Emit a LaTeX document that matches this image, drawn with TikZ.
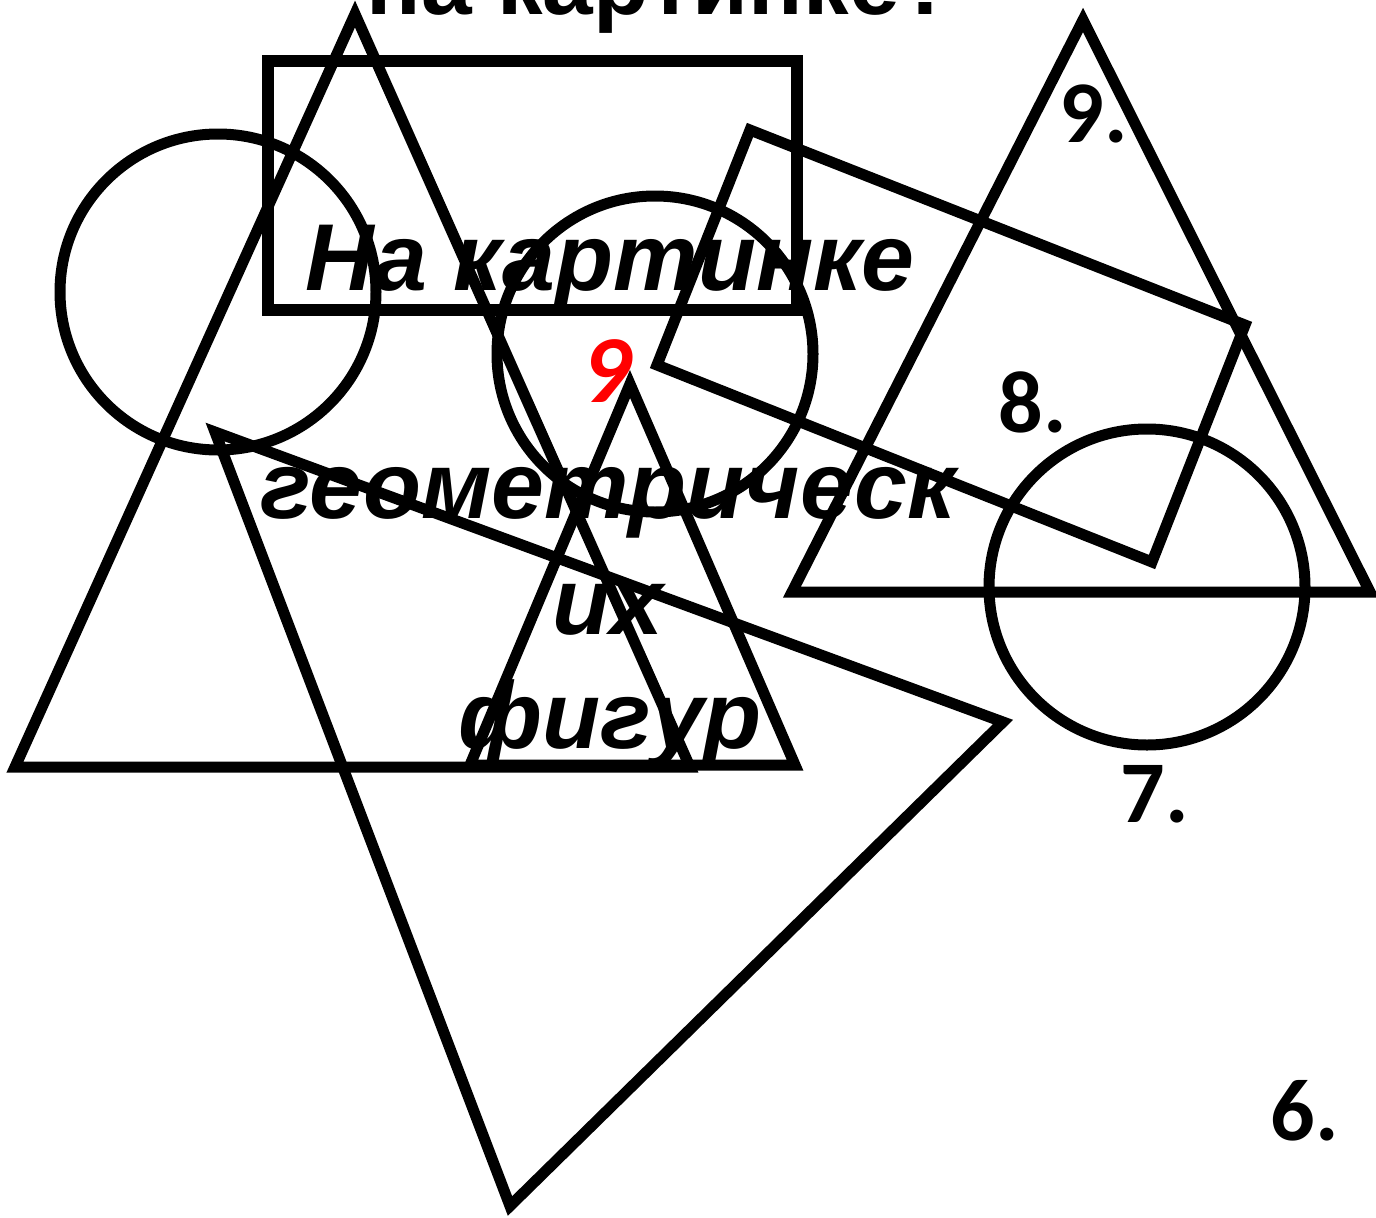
\documentclass[tikz,border=0pt]{standalone}
\usepackage{fontspec}
\setmainfont{Liberation Sans}
\newfontfamily\calfont{Carlito}
\definecolor{redd}{RGB}{255,0,0}
\begin{document}
\begin{tikzpicture}[x=1pt,y=-1pt,
  figline/.style={draw=black,line width=11pt,line join=miter},
  lbl/.style={font=\calfont\bfseries\fontsize{88}{90}\selectfont, inner sep=0, anchor=base},
  maintext/.style={font=\bfseries\itshape\fontsize{95}{110}\selectfont, inner sep=0, anchor=base},
  toptext/.style={font=\bfseries\fontsize{91}{95}\selectfont, inner sep=0, anchor=base}]
\useasboundingbox (0,0) rectangle (1376,1218);
\fill[white] (0,0) rectangle (1376,1218);
% shapes
\draw[figline] (355,14) -- (15,767) -- (690,767) -- cycle;
\draw[figline] (630,384) -- (470,765) -- (795,765) -- cycle;
\draw[figline, line width=12pt] (268,61) rectangle (797,310);
\draw[figline] (218,292) circle (158);
\draw[figline] (655,354) circle (158);
\draw[figline] (215,432) -- (1003,722) -- (510,1206) -- cycle;
\draw[figline] (750,130) -- (1245,325) -- (1152,562) -- (657,365) -- cycle;
\draw[figline] (1083,20) -- (792,592) -- (1370,592) -- cycle;
\draw[figline] (1147,587) circle (158);
% texts
\node[toptext] (top) at (661,14) {на картинке?};
\node[maintext] (l1) at (610,290) {На картинке};
\node[font=\calfont\bfseries\itshape\fontsize{96}{98}\selectfont, text=redd, inner sep=0, anchor=base] (nine) at (607,402) {9};
\node[maintext] (l2) at (608,518) {геометрическ};
\node[maintext] (l3) at (608,634) {их};
\node[maintext] (l4) at (610,748) {фигур};
\node[lbl] (n9) at (1094,142) {9.};
\node[lbl] (n8) at (1033,432) {8.};
\node[lbl] (n7) at (1155,822) {7.};
\node[lbl] (n6) at (1305,1140) {6.};
\end{tikzpicture}
\end{document}
